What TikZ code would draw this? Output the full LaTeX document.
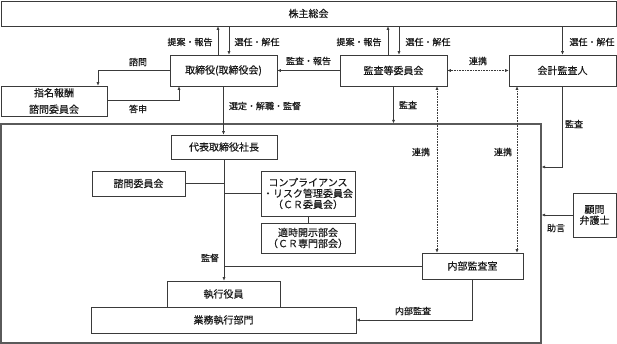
\documentclass[tikz,border=0pt]{standalone}
\usepackage{fontspec}
\setmainfont{Noto Sans CJK JP}[FakeBold=0.35]
\definecolor{gLine}{HTML}{3A3A3A}
\definecolor{gFrame}{HTML}{5A5A5A}
\definecolor{gText}{HTML}{1A1A1A}
\usetikzlibrary{arrows.meta, positioning}

\begin{document}
\begin{tikzpicture}[x=1pt, y=-1pt,
    box/.style={draw=gLine, line width=0.6pt, fill=white, inner sep=0pt, align=center,
      font=\fontsize{10}{11}\selectfont, text=gText},
    frame/.style={draw=gFrame, line width=1.2pt, inner sep=0pt},
    lbl/.style={font=\fontsize{9}{10}\selectfont, text=gText, inner sep=0pt},
    ln/.style={draw=gLine, line width=0.6pt},
    arr/.style={draw=gLine, line width=0.6pt, -{Latex[length=3.5pt,width=3pt]}},
    dotarr/.style={draw=gLine, line width=0.6pt, densely dotted,
      {Latex[length=3.5pt,width=3pt]}-{Latex[length=3.5pt,width=3pt]}}]
  \fill[white] (0,0) rectangle (617,344);
  \useasboundingbox (0,0) rectangle (617,344);
  % shareholders
  \node[box, minimum width=615pt, minimum height=25pt] (kabu) at (308.5,13.5) {株主総会};
  % board level
  \node[box, minimum width=107pt, minimum height=31pt] (tori) at (223.5,70.5) {取締役(取締役会)};
  \node[box, minimum width=106pt, minimum height=30pt, font=\fontsize{10}{16.5}\selectfont]
       (shimei) at (54,101) {指名報酬\\諮問委員会};
  \node[box, minimum width=107pt, minimum height=31pt] (kansa) at (393.5,70.5) {監査等委員会};
  \node[box, minimum width=107pt, minimum height=31pt] (kaikei) at (562.5,70.5) {会計監査人};
  \node[box, minimum width=43pt, minimum height=44pt] (komon) at (594.5,215) {顧問\\弁護士};
  % execution frame
  \node[frame, minimum width=540pt, minimum height=219pt] (grp) at (271,233.5) {};
  \node[box, minimum width=106pt, minimum height=24pt] (daihyo) at (224,147) {代表取締役社長};
  \node[box, minimum width=93pt, minimum height=25pt] (shimon) at (138.5,183.5) {諮問委員会};
  \node[box, minimum width=94pt, minimum height=45pt] (cr) at (308,193.5)
       {コンプライアンス\\・リスク管理委員会\\（ＣＲ委員会）};
  \node[box, minimum width=94pt, minimum height=30pt] (tekiji) at (308,238)
       {適時開示部会\\（ＣＲ専門部会）};
  \node[box, minimum width=101pt, minimum height=26pt] (naibu) at (472.5,266) {内部監査室};
  \node[box, minimum width=113pt, minimum height=26pt] (shikko) at (223.5,294) {執行役員};
  \node[box, minimum width=265pt, minimum height=26pt] (gyomu) at (223.5,320) {業務執行部門};
  % shareholders <-> board
  \draw[arr] ([xshift=-5.5pt]tori.north) -- ([xshift=-5.5pt]tori.north |- kabu.south);
  \draw[arr] ([xshift=5.5pt]tori.north |- kabu.south) -- ([xshift=5.5pt]tori.north);
  \draw[arr] ([xshift=-5.5pt]kansa.north) -- ([xshift=-5.5pt]kansa.north |- kabu.south);
  \draw[arr] ([xshift=5.5pt]kansa.north |- kabu.south) -- ([xshift=5.5pt]kansa.north);
  \draw[arr] (kaikei.north |- kabu.south) -- (kaikei.north);
  % board <-> committees
  \draw[arr] (tori.west) -| ([xshift=44pt]shimei.north);
  \draw[arr] ([yshift=1pt]shimei.east) -| ([xshift=-44.5pt]tori.south);
  \draw[arr] (kansa.west) -- (tori.east);
  \draw[dotarr] (kansa.east) -- (kaikei.west);
  % audit lines
  \draw[arr] (tori.south) -- (tori.south |- daihyo.north);
  \draw[arr] (kansa.south) -- (kansa.south |- grp.north);
  \draw[dotarr] ([xshift=43.5pt]kansa.south) -- ([xshift=43.5pt]kansa.south |- naibu.north);
  \draw[dotarr] ([xshift=-45.5pt]kaikei.south) -- ([xshift=-45.5pt]kaikei.south |- naibu.north);
  \draw[arr] (kaikei.south) |- ([yshift=66.5pt]grp.east);
  \draw[arr] (komon.west) -- (komon.west -| grp.east);
  % inside the frame
  \draw[arr] (daihyo.south) -- (daihyo.south |- shikko.north);
  \draw[ln] (shimon.east) -- (shimon.east -| daihyo.south);
  \draw[ln] (cr.west) -- (cr.west -| daihyo.south);
  \draw[ln] (cr.south) -- (tekiji.north);
  \draw[ln] (naibu.west) -- (naibu.west -| daihyo.south);
  \draw[arr] (naibu.south) |- (gyomu.east);
  % labels
  \node[lbl] (lTeianA) at (190,42) {提案・報告};
  \node[lbl] (lSenninA) at (257,42) {選任・解任};
  \node[lbl] (lTeianB) at (359,42) {提案・報告};
  \node[lbl] (lSenninB) at (428,42) {選任・解任};
  \node[lbl] (lSenninC) at (592,42) {選任・解任};
  \node[lbl] (lShimon) at (138,62) {諮問};
  \node[lbl] (lToshin) at (138,109) {答申};
  \node[lbl] (lHokoku) at (308.5,61) {監査・報告};
  \node[lbl] (lRenkeiA) at (478,61) {連携};
  \node[lbl] (lSentei) at (265,106) {選定・解職・監督};
  \node[lbl] (lKansaA) at (408,105) {監査};
  \node[lbl] (lKansaB) at (574,124) {監査};
  \node[lbl] (lRenkeiB) at (421,152) {連携};
  \node[lbl] (lRenkeiC) at (503,152) {連携};
  \node[lbl] (lJogen) at (556,228) {助言};
  \node[lbl] (lKantoku) at (210,258) {監督};
  \node[lbl] (lNaibu) at (413,311) {内部監査};
\end{tikzpicture}
\end{document}
